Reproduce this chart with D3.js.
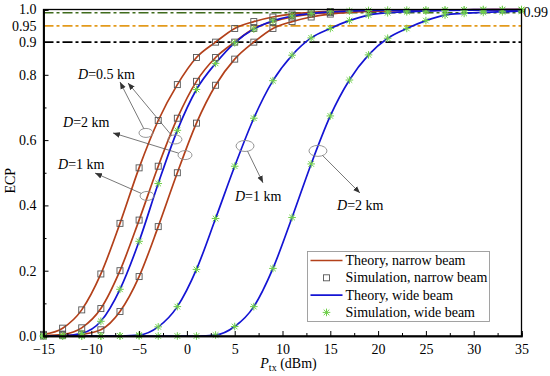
<!DOCTYPE html>
<html>
<head>
<meta charset="utf-8">
<script src="https://cdn.jsdelivr.net/npm/d3@7"></script>
<style>
  body { margin: 0; background: #fff; }
  svg text { font-family: "Liberation Serif", "Times New Roman", serif; }
</style>
</head>
<body>
<svg id="chart"></svg>
<script>
// transmit power (dBm), one point every 2 dB
const powerDbm = [-15, -13, -11, -9, -7, -5, -3, -1, 1, 3, 5, 7, 9, 11, 13, 15, 17, 19, 21, 23, 25, 27, 29, 31, 33, 35];
// narrow beam simulation stops at 15 dBm
const narrowSimCount = 16;

// ECP, narrow beam
const narrowD05 = [0.005, 0.024, 0.08, 0.19, 0.345, 0.515, 0.66, 0.77, 0.853, 0.90, 0.942, 0.963, 0.977, 0.986, 0.991, 0.994, 0.996, 0.997, 0.998, 0.998, 0.999, 0.999, 0.999, 1.0, 1.0, 1.0];
const narrowD1  = [0.001, 0.005, 0.025, 0.084, 0.20, 0.355, 0.52, 0.667, 0.78, 0.853, 0.90, 0.942, 0.963, 0.977, 0.986, 0.991, 0.994, 0.996, 0.997, 0.998, 0.998, 0.999, 0.999, 0.999, 1.0, 1.0];
const narrowD2  = [0, 0.001, 0.005, 0.019, 0.075, 0.182, 0.335, 0.50, 0.652, 0.768, 0.848, 0.90, 0.942, 0.963, 0.977, 0.986, 0.991, 0.994, 0.996, 0.997, 0.998, 0.998, 0.999, 0.999, 0.999, 1.0];

// ECP, wide beam
const wideD05 = [0, 0.0005, 0.008, 0.045, 0.143, 0.29, 0.467, 0.63, 0.755, 0.835, 0.898, 0.94, 0.965, 0.98, 0.988, 0.993, 0.995, 0.997, 0.998, 0.998, 0.999, 0.999, 0.999, 1.0, 1.0, 1.0];
const wideD1  = [0, 0, 0, 0, 0.0005, 0.003, 0.028, 0.09, 0.204, 0.36, 0.52, 0.667, 0.782, 0.86, 0.913, 0.942, 0.966, 0.983, 0.99, 0.993, 0.995, 0.997, 0.998, 0.998, 0.999, 0.999];
const wideD2  = [0, 0, 0, 0, 0, 0, 0, 0, 0, 0.003, 0.029, 0.09, 0.207, 0.363, 0.527, 0.674, 0.784, 0.861, 0.912, 0.942, 0.966, 0.983, 0.988, 0.991, 0.993, 0.995];

// reference ECP levels
const refLevels = [0.99, 0.95, 0.9];
const refColors = ['#3f6b1c', '#e39a1c', '#000'];

const xTicks = [-15, -10, -5, 0, 5, 10, 15, 20, 25, 30, 35];
const yTicks = [0.0, 0.2, 0.4, 0.6, 0.8, 1.0];
const yExtraTicks = [0.9, 0.95];

const legendItems = ['Theory, narrow beam', 'Simulation, narrow beam', 'Theory, wide beam', 'Simulation, wide beam'];

// labels: ellipse on the curve (p, v), arrow head and text position, in data units
const notes = [
  { text: '=0.5 km', ell: [-4.28, 0.622], head: [-7.0, 0.778], tx: [-11.39, 0.786], rx: 7, ry: 4.5 },
  { text: null,      ell: [-1.25, 0.602], head: [-6.16, 0.775], rx: 7, ry: 4.5 },
  { text: '=2 km',   ell: [-0.20, 0.554], head: [-7.73, 0.622], tx: [-12.96, 0.639], rx: 7, ry: 4.5 },
  { text: '=1 km',   ell: [-4.17, 0.429], head: [-9.61, 0.499], tx: [-13.48, 0.513], rx: 7, ry: 4.5 },
  { text: '=1 km',   ell: [6.08, 0.582],  head: [7.96, 0.469],  tx: [5.03, 0.413],  rx: 9, ry: 5.5 },
  { text: '=2 km',   ell: [13.71, 0.567], head: [18.1, 0.438],  tx: [15.71, 0.386], rx: 9, ry: 5.5 }
];

const width = 550, height = 376;
const margin = { top: 9.5, right: 28.5, bottom: 40, left: 43.5 };
const brown = '#b3401a', blue = '#1414d4', green = '#6fcf4a';

const svg = d3.select('#chart').attr('width', width).attr('height', height);

const x = d3.scaleLinear().domain([-15, 35]).range([margin.left, width - margin.right]);
const y = d3.scaleLinear().domain([0, 1]).range([height - margin.bottom, margin.top]);

// arrow head
svg.append('defs').append('marker')
  .attr('id', 'arrow')
  .attr('viewBox', '0 0 10 10')
  .attr('refX', 10).attr('refY', 5)
  .attr('markerWidth', 7).attr('markerHeight', 7)
  .attr('markerUnits', 'userSpaceOnUse')
  .attr('orient', 'auto')
  .append('path').attr('d', 'M0,1 L10,5 L0,9 Z').attr('fill', '#333');

// reference lines
refLevels.forEach((lv, i) => {
  svg.append('line')
    .attr('x1', x(-15)).attr('x2', x(35))
    .attr('y1', y(lv)).attr('y2', y(lv))
    .attr('stroke', refColors[i])
    .attr('stroke-width', 1.6)
    .attr('stroke-dasharray', '10,3,3,3');
});

// theory lines
const line = d3.line()
  .x((d, i) => x(powerDbm[i]))
  .y(d => y(d))
  .curve(d3.curveMonotoneX);

[narrowD05, narrowD1, narrowD2].forEach(s => {
  svg.append('path').attr('d', line(s))
    .attr('fill', 'none').attr('stroke', brown).attr('stroke-width', 1.7);
});
[wideD05, wideD1, wideD2].forEach(s => {
  svg.append('path').attr('d', line(s))
    .attr('fill', 'none').attr('stroke', blue).attr('stroke-width', 1.7);
});

// simulation markers
function drawSquare(g, cx, cy) {
  g.append('rect')
    .attr('x', cx - 3).attr('y', cy - 3)
    .attr('width', 6).attr('height', 6)
    .attr('fill', 'none').attr('stroke', '#555').attr('stroke-width', 0.9);
}
function drawStar(g, cx, cy) {
  const r = 3.8, d = 2.8;
  g.append('path')
    .attr('d', `M${cx - r},${cy}H${cx + r}M${cx},${cy - r}V${cy + r}` +
               `M${cx - d},${cy - d}L${cx + d},${cy + d}M${cx - d},${cy + d}L${cx + d},${cy - d}`)
    .attr('stroke', green).attr('stroke-width', 1).attr('fill', 'none');
}

const marks = svg.append('g');
[narrowD05, narrowD1, narrowD2].forEach(s => {
  s.slice(0, narrowSimCount).forEach((v, i) => drawSquare(marks, x(powerDbm[i]), y(v)));
});
[wideD05, wideD1, wideD2].forEach(s => {
  s.forEach((v, i) => drawStar(marks, x(powerDbm[i]), y(v)));
});

// frame
svg.append('rect')
  .attr('x', x(-15)).attr('y', y(1))
  .attr('width', x(35) - x(-15)).attr('height', y(0) - y(1))
  .attr('fill', 'none').attr('stroke', '#000').attr('stroke-width', 1.3);

// axes, ticks inside
svg.append('g').attr('transform', `translate(0,${y(0)})`)
  .call(d3.axisBottom(x).tickValues(xTicks).tickSize(-5).tickPadding(8)
    .tickFormat(d => d < 0 ? '\u2212' + Math.abs(d) : d));
svg.append('g').attr('transform', `translate(0,${y(0)})`)
  .call(d3.axisBottom(x).tickValues(d3.range(-12.5, 35, 5)).tickSize(-3).tickFormat(''));

svg.append('g').attr('transform', `translate(${x(-15)},0)`)
  .call(d3.axisLeft(y).tickValues(yTicks).tickSize(-5).tickPadding(7).tickFormat(d3.format('.1f')));
svg.append('g').attr('transform', `translate(${x(-15)},0)`)
  .call(d3.axisLeft(y).tickValues([0.1, 0.3, 0.5, 0.7]).tickSize(-3).tickFormat(''));
svg.append('g').attr('transform', `translate(${x(-15)},0)`)
  .call(d3.axisLeft(y).tickValues(yExtraTicks).tickSize(0).tickPadding(7).tickFormat(d => d));

svg.selectAll('.domain').attr('stroke', '#000').attr('stroke-width', 1.3);
svg.selectAll('.tick line').attr('stroke', '#000').attr('stroke-width', 1);
svg.selectAll('.tick text').attr('fill', '#000').style('font-size', '14px')
  .style('font-family', '"Liberation Serif", serif');

// right-hand 0.99 label
svg.append('text')
  .attr('x', x(35) + 2).attr('y', y(0.99) + 4.5)
  .style('font-size', '14px')
  .text('0.99');

// axis titles
svg.append('text')
  .attr('transform', `translate(15,${(y(0) + y(1)) / 2 + 8}) rotate(-90)`)
  .attr('text-anchor', 'middle')
  .style('font-size', '14px')
  .text('ECP');

const xt = svg.append('text')
  .attr('x', (x(-15) + x(35)) / 2 + 6).attr('y', height - 8)
  .attr('text-anchor', 'middle')
  .style('font-size', '14px');
xt.append('tspan').style('font-style', 'italic').text('P');
xt.append('tspan').attr('dy', 3).style('font-size', '10px').text('tx');
xt.append('tspan').attr('dy', -3).text(' (dBm)');

// annotations
const ann = svg.append('g');
notes.forEach(n => {
  const cx = x(n.ell[0]), cy = y(n.ell[1]);
  const hx = x(n.head[0]), hy = y(n.head[1]);
  const len = Math.hypot(hx - cx, hy - cy);
  const ux = (hx - cx) / len, uy = (hy - cy) / len;
  const t = 1 / Math.sqrt((ux / n.rx) ** 2 + (uy / n.ry) ** 2);
  ann.append('ellipse')
    .attr('cx', cx).attr('cy', cy).attr('rx', n.rx).attr('ry', n.ry)
    .attr('fill', 'none').attr('stroke', '#8a8a8a').attr('stroke-width', 0.9);
  ann.append('line')
    .attr('x1', cx + ux * t).attr('y1', cy + uy * t)
    .attr('x2', hx).attr('y2', hy)
    .attr('stroke', '#555').attr('stroke-width', 0.8)
    .attr('marker-end', 'url(#arrow)');
  if (n.text) {
    const tt = ann.append('text')
      .attr('x', x(n.tx[0])).attr('y', y(n.tx[1]))
      .style('font-size', '14px');
    tt.append('tspan').style('font-style', 'italic').text('D');
    tt.append('tspan').text(n.text);
  }
});

// legend
const lg = svg.append('g').attr('transform', 'translate(307.5,251.5)');
lg.append('rect')
  .attr('width', 182).attr('height', 70)
  .attr('fill', '#fff').attr('stroke', '#999').attr('stroke-width', 0.9);
legendItems.forEach((label, i) => {
  const ry = 9 + i * 17.3;
  if (i === 0 || i === 2) {
    lg.append('line')
      .attr('x1', 3).attr('x2', 35).attr('y1', ry).attr('y2', ry)
      .attr('stroke', i === 0 ? brown : blue).attr('stroke-width', 1.7);
  } else if (i === 1) {
    drawSquare(lg, 19, ry);
  } else {
    drawStar(lg, 19, ry);
  }
  lg.append('text')
    .attr('x', 38).attr('y', ry + 4.5)
    .style('font-size', '14px')
    .text(label);
});
</script>
</body>
</html>
